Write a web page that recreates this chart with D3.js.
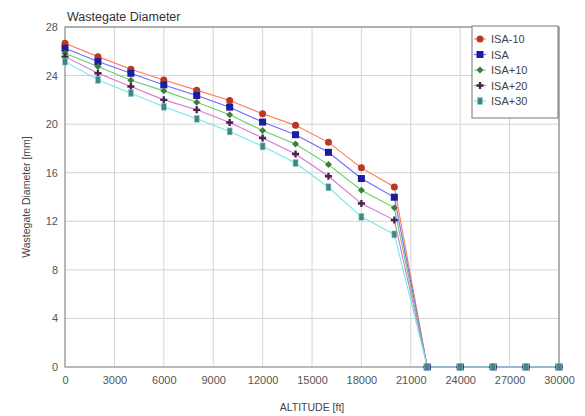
<!DOCTYPE html>
<html><head><meta charset="utf-8">
<script src="https://cdn.jsdelivr.net/npm/d3@7"></script>
<style>body{margin:0;background:#fff}svg{display:block}text{font-family:"Liberation Sans",Arial,sans-serif}</style>
</head><body><svg id="c" width="585" height="416"></svg>
<script>
const altitudes = [0,2000,4000,6000,8000,10000,12000,14000,16000,18000,20000,22000,24000,26000,28000,30000];
const isaM10 = [26.66,25.56,24.52,23.64,22.8,21.95,20.85,19.9,18.5,16.4,14.83,0,0,0,0,0];
const isa    = [26.25,25.15,24.19,23.23,22.36,21.4,20.17,19.13,17.68,15.52,13.98,0,0,0,0,0];
const isaP10 = [25.84,24.74,23.62,22.74,21.8,20.77,19.48,18.36,16.67,14.56,13.11,0,0,0,0,0];
const isaP20 = [25.56,24.19,23.1,22.0,21.18,20.14,18.86,17.54,15.71,13.46,12.1,0,0,0,0,0];
const isaP30 = [25.15,23.65,22.55,21.43,20.44,19.4,18.17,16.8,14.8,12.37,10.92,0,0,0,0,0];
const seriesNames = ["ISA-10","ISA","ISA+10","ISA+20","ISA+30"];
const xTicks = [0,3000,6000,9000,12000,15000,18000,21000,24000,27000,30000];
const yTicks = [0,4,8,12,16,20,24,28];

const series = [
  {name:seriesNames[0], values:isaM10, line:"#ff7a5a", fill:"#b83a24", shape:"circle"},
  {name:seriesNames[1], values:isa,    line:"#6a6aff", fill:"#1c1c9c", shape:"square"},
  {name:seriesNames[2], values:isaP10, line:"#6ccc6c", fill:"#3c7c3c", shape:"diamond"},
  {name:seriesNames[3], values:isaP20, line:"#d478d4", fill:"#4a2250", shape:"plus"},
  {name:seriesNames[4], values:isaP30, line:"#7ae6e6", fill:"#3f8686", shape:"rect"}
];

const svg = d3.select("#c");
const L=65, R=559, T=27, B=367;
const x = d3.scaleLinear().domain([0,30000]).range([L,R]);
const y = d3.scaleLinear().domain([0,28]).range([B,T]);

// grid
svg.append("g").selectAll("line").data(xTicks.slice(1)).join("line")
  .attr("x1",d=>x(d)).attr("x2",d=>x(d)).attr("y1",T).attr("y2",B)
  .attr("stroke","#d4d4d4").attr("stroke-width",1);
svg.append("g").selectAll("line").data(yTicks.slice(1)).join("line")
  .attr("x1",L).attr("x2",R).attr("y1",d=>y(d)).attr("y2",d=>y(d))
  .attr("stroke","#d4d4d4").attr("stroke-width",1);
// frame
svg.append("rect").attr("x",L).attr("y",T).attr("width",R-L).attr("height",B-T)
  .attr("fill","none").attr("stroke","#8a8a8a").attr("stroke-width",1.2);

// axes
const xa = svg.append("g").attr("transform",`translate(0,${B})`)
  .call(d3.axisBottom(x).tickValues(xTicks).tickSize(0).tickPadding(9).tickFormat(d3.format("d")));
const ya = svg.append("g").attr("transform",`translate(${L},0)`)
  .call(d3.axisLeft(y).tickValues(yTicks).tickSize(0).tickPadding(7));
[xa,ya].forEach(g=>{g.select(".domain").remove();
  g.selectAll("text").attr("fill","#555").style("font-size","11px").style("font-family","'Liberation Sans',Arial,sans-serif");});

// lines
const line = d3.line().x((d,i)=>x(altitudes[i])).y(d=>y(d));
series.forEach(s=>{
  svg.append("path").datum(s.values).attr("d",line)
    .attr("fill","none").attr("stroke",s.line).attr("stroke-width",1.1);
});

function marker(g, shape, fill, cx, cy){
  if(shape==="circle") g.append("circle").attr("cx",cx).attr("cy",cy).attr("r",3.5).attr("fill",fill);
  else if(shape==="square") g.append("rect").attr("x",cx-3.5).attr("y",cy-3.5).attr("width",7).attr("height",7).attr("fill",fill);
  else if(shape==="diamond") g.append("path").attr("d",d3.symbol(d3.symbolSquare,24)()).attr("transform",`translate(${cx},${cy}) rotate(45)`).attr("fill",fill);
  else if(shape==="plus") g.append("path").attr("d",d3.symbol(d3.symbolCross,28)()).attr("transform",`translate(${cx},${cy})`).attr("fill",fill);
  else g.append("rect").attr("x",cx-2.5).attr("y",cy-3.5).attr("width",5).attr("height",7).attr("fill",fill).attr("stroke","#9fcfcf").attr("stroke-width",0.6);
}
series.forEach(s=>{
  const g = svg.append("g");
  s.values.forEach((v,i)=>marker(g,s.shape,s.fill,x(altitudes[i]),y(v)));
});

// titles
svg.append("text").attr("x",67).attr("y",21).text("Wastegate Diameter")
  .attr("fill","#333").style("font-size","12.5px");
svg.append("text").attr("x",(L+R)/2).attr("y",411).attr("text-anchor","middle")
  .text("ALTITUDE [ft]").attr("fill","#444").style("font-size","10.5px");
svg.append("text").attr("transform",`translate(30,${(T+B)/2}) rotate(-90)`).attr("text-anchor","middle")
  .text("Wastegate Diameter [mm]").attr("fill","#444").style("font-size","10.5px");

// legend
const lg = svg.append("g");
lg.append("rect").attr("x",472).attr("y",26).attr("width",86).attr("height",92)
  .attr("fill","#fff").attr("stroke","#777").attr("stroke-width",1);
series.forEach((s,i)=>{
  const cy = 39 + i*15.5;
  lg.append("line").attr("x1",474).attr("x2",486).attr("y1",cy).attr("y2",cy).attr("stroke",s.line).attr("stroke-width",1.1);
  marker(lg,s.shape,s.fill,480,cy);
  lg.append("text").attr("x",491).attr("y",cy+4).text(s.name).attr("fill","#444").style("font-size","11px");
});
</script></body></html>
